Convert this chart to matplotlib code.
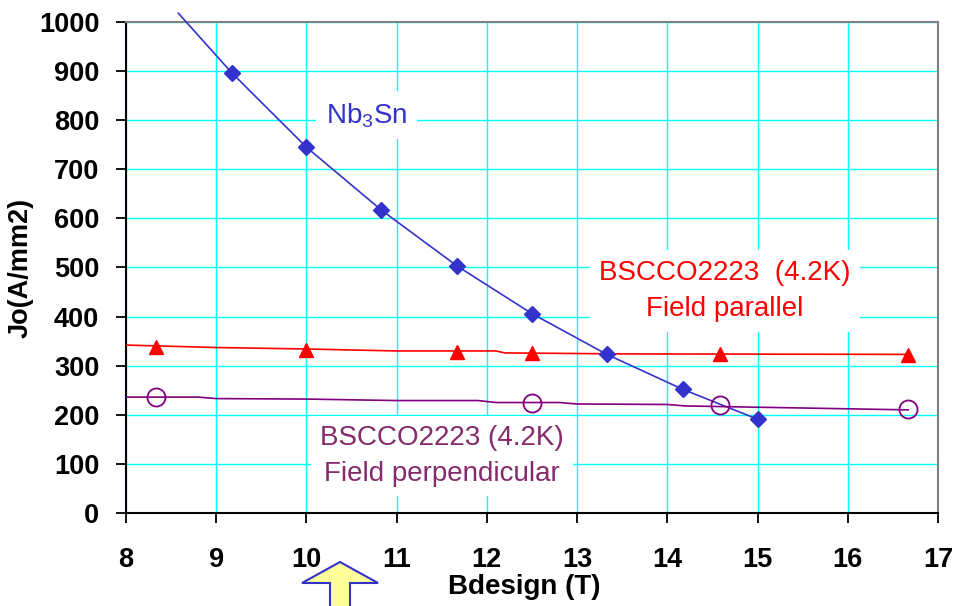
import matplotlib
matplotlib.use("Agg")
import matplotlib.pyplot as plt
from matplotlib.patches import Polygon

plt.rcParams['font.family'] = ['Liberation Sans', 'DejaVu Sans']
plt.rcParams['mathtext.fontset'] = 'custom'
plt.rcParams['mathtext.rm'] = 'Liberation Sans'
plt.rcParams['mathtext.it'] = 'Liberation Sans:italic'
plt.rcParams['mathtext.bf'] = 'Liberation Sans:bold'

# Nb3Sn
nb_x = [9.17, 10.0, 10.83, 11.67, 12.5, 13.33, 14.17, 15.0]
nb_y = [897, 745, 617, 503, 406, 323, 252, 191]
nb_line_x = [8.58, 9.17, 10.0, 10.83, 11.67, 12.5, 13.33, 14.17, 15.0]
nb_line_y = [1018, 897, 745, 617, 503, 406, 323, 252, 191]

# BSCCO2223 field parallel
par_x = [8.33, 10.0, 11.67, 12.5, 14.58, 16.67]
par_y = [339, 331, 328, 326, 323, 322]
par_line_x = [8.0, 9.0, 10.0, 11.0, 12.1, 12.2, 13.5, 16.67]
par_line_y = [342, 337, 334, 330, 330, 326, 324, 323]

# BSCCO2223 field perpendicular
perp_x = [8.33, 12.5, 14.58, 16.67]
perp_y = [237, 225, 219, 211]
perp_line_x = [8.0, 8.8, 9.0, 10.0, 11.0, 11.9, 12.1, 12.8, 13.0, 14.0, 14.2, 16.67]
perp_line_y = [236, 236, 233, 232, 229, 229, 225, 225, 222, 221, 218, 210]

xticks = [8, 9, 10, 11, 12, 13, 14, 15, 16, 17]
yticks = [0, 100, 200, 300, 400, 500, 600, 700, 800, 900, 1000]

blue = '#3333cc'
red = '#ff0000'
purple = '#800080'
purple_text = '#862a6c'

fig = plt.figure(figsize=(9.61, 6.06), dpi=100)
ax = fig.add_axes([0.1311, 0.1535, 0.8449, 0.8102])

ax.set_xlim(8, 17)
ax.set_ylim(0, 1000)
ax.set_xticks(xticks)
ax.set_yticks(yticks)
ax.grid(True, color='#00ffff', linewidth=1.0)
ax.set_axisbelow(True)

ax.plot(nb_line_x, nb_line_y, color=blue, linewidth=1.2, zorder=3, clip_on=False)
ax.plot(nb_x, nb_y, linestyle='none', marker='D', markersize=8.5, color=blue, zorder=4)

ax.plot(par_line_x, par_line_y, color=red, linewidth=1.2, zorder=3)
ax.plot(par_x, par_y, linestyle='none', marker='^', markersize=10.5, color=red, zorder=4)

ax.plot(perp_line_x, perp_line_y, color=purple, linewidth=1.2, zorder=3)
ax.plot(perp_x, perp_y, linestyle='none', marker='o', markersize=13, markerfacecolor='none',
        markeredgecolor=purple, markeredgewidth=1.3, zorder=4)

for s in ['left', 'bottom']:
    ax.spines[s].set_color('black')
    ax.spines[s].set_linewidth(1.5)
for s in ['right', 'top']:
    ax.spines[s].set_color('#808080')
    ax.spines[s].set_linewidth(1.5)

ax.tick_params(axis='both', direction='out', length=7.2, width=1.3, labelsize=19.5)
ax.tick_params(axis='x', pad=17)
ax.tick_params(axis='y', pad=12)
for lab in ax.get_xticklabels() + ax.get_yticklabels():
    lab.set_fontweight('bold')

ax.set_xlabel('Bdesign (T)', fontsize=20, fontweight='bold', labelpad=1)
ax.xaxis.label.set_x(0.491)
ax.set_ylabel('Jo(A/mm2)', fontsize=19.5, fontweight='bold', labelpad=4)

ax.text(10.67, 810, r'Nb$_3$Sn', color=blue, fontsize=20, ha='center', va='center',
        bbox=dict(facecolor='white', edgecolor='none', pad=7), zorder=2)
ax.text(14.64, 452, 'BSCCO2223  (4.2K)\nField parallel', color=red, fontsize=20,
        ha='center', va='center', linespacing=1.5, multialignment='center',
        bbox=dict(facecolor='white', edgecolor='none', pad=7), zorder=2)
ax.text(11.5, 116, 'BSCCO2223 (4.2K)\nField perpendicular', color=purple_text, fontsize=20,
        ha='center', va='center', linespacing=1.5, multialignment='center',
        bbox=dict(facecolor='white', edgecolor='none', pad=6.5), zorder=2)

# yellow arrow under the axis
W, H = 961.0, 606.0
pts = [(340, 562), (378, 583), (350, 583), (350, 610), (330, 610), (330, 583), (302, 583)]
arrow = Polygon([(x / W, 1 - y / H) for x, y in pts], closed=True, transform=fig.transFigure,
                facecolor='#ffff99', edgecolor='#3333cc', linewidth=1.5, clip_on=False)
fig.patches.append(arrow)

fig.savefig('out.png', dpi=100)
